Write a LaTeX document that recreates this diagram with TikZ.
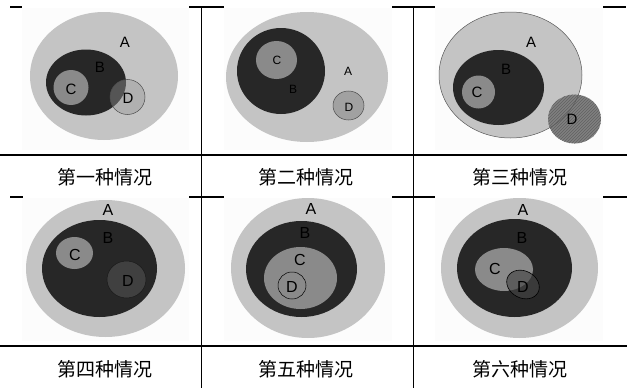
\documentclass[tikz,border=0pt]{standalone}
\usepackage{fontspec}
\setmainfont{Liberation Sans}
\newfontfamily\cjk{Noto Sans CJK SC}
\usetikzlibrary{patterns}
\definecolor{cA}{HTML}{C4C4C4}
\definecolor{cB}{HTML}{272727}
\definecolor{cC}{HTML}{8A8A8A}
\definecolor{bgimg}{HTML}{FCFCFC}
\definecolor{dOne}{HTML}{959595}
\definecolor{dSix}{HTML}{454545}
\tikzset{
  rule/.style={line width=1.1pt, black},
  toprule/.style={line width=1.8pt, black},
  setA/.style={fill=cA, draw=none},
  setB/.style={fill=cB, draw=none},
  setC/.style={fill=cC, draw=none},
  lblL/.style={font=\fontsize{15}{15}\selectfont, inner sep=0pt},
  lblS/.style={font=\fontsize{12}{12}\selectfont, inner sep=0pt},
  lblM/.style={font=\fontsize{16}{16}\selectfont, inner sep=0pt},
  captext/.style={font=\cjk\fontsize{19}{19}\selectfont, inner sep=0pt}
}
\begin{document}
\begin{tikzpicture}[x=1pt,y=-1pt]
\useasboundingbox (0,0) rectangle (627,388);
% image backgrounds
\fill[bgimg] (22,8) rectangle (189,150);
\fill[bgimg] (224,8) rectangle (392,150);
\fill[bgimg] (435,8) rectangle (603,150);
\fill[bgimg] (22,198) rectangle (189,341);
\fill[bgimg] (224,198) rectangle (392,341);
\fill[bgimg] (435,198) rectangle (603,341);
% table rules
\coordinate (t1a) at (10,7); \coordinate (t1b) at (22,7);
\coordinate (t2a) at (189,7); \coordinate (t2b) at (224,7);
\coordinate (t3a) at (392,7); \coordinate (t3b) at (435,7);
\coordinate (t4a) at (603,7); \coordinate (t4b) at (626,7);
\draw[toprule] (t1a) -- (t1b); \draw[toprule] (t2a) -- (t2b);
\draw[toprule] (t3a) -- (t3b); \draw[toprule] (t4a) -- (t4b);
\coordinate (m1a) at (10,197); \coordinate (m1b) at (23,197);
\coordinate (m2a) at (189,197); \coordinate (m2b) at (224,197);
\coordinate (m3a) at (392,197); \coordinate (m3b) at (435,197);
\coordinate (m4a) at (603,197); \coordinate (m4b) at (627,197);
\draw[rule] (m1a) -- (m1b); \draw[rule] (m2a) -- (m2b);
\draw[rule] (m3a) -- (m3b); \draw[rule] (m4a) -- (m4b);
\coordinate (h1a) at (0,155); \coordinate (h1b) at (627,155);
\coordinate (h2a) at (0,346); \coordinate (h2b) at (627,346);
\draw[rule] (h1a) -- (h1b); \draw[rule] (h2a) -- (h2b);
\coordinate (v1a) at (201.7,7); \coordinate (v1b) at (201.7,388);
\coordinate (v2a) at (413.3,7); \coordinate (v2b) at (413.3,388);
\draw[rule] (v1a) -- (v1b); \draw[rule] (v2a) -- (v2b);

% ---- panel 1
\fill[setA] (104,76) ellipse [x radius=74pt, y radius=64pt];
\fill[setB] (86,82.5) ellipse [x radius=40pt, y radius=33pt];
\fill[setC] (71,87.5) circle [radius=17.5pt];
\fill[dOne, fill opacity=0.42] (127.5,97) circle [radius=17.5pt];
\draw[black!70, line width=0.5pt] (127.5,97) circle [radius=17.5pt];
\node[lblL] (p1A) at (125,42) {A};
\node[lblL] (p1B) at (100,67) {B};
\node[lblL] (p1C) at (71,89) {C};
\node[lblL] (p1D) at (128,98) {D};

% ---- panel 2
\fill[setA] (307,77) ellipse [x radius=81pt, y radius=65pt];
\fill[setB] (281,71) ellipse [x radius=44pt, y radius=43pt];
\fill[setC] (276.5,60) ellipse [x radius=20.5pt, y radius=19pt];
\draw[fill=black!37, draw=black!70, line width=0.5pt] (348.5,105.5) ellipse [x radius=15.5pt, y radius=14.5pt];
\node[lblS] (p2C) at (277,60) {C};
\node[lblS] (p2B) at (293,89) {B};
\node[lblS] (p2A) at (348,71) {A};
\node[lblS] (p2D) at (349,107) {D};

% ---- panel 3
\draw[fill=cA, draw=black!65, line width=0.5pt] (510.5,75) ellipse [x radius=71.5pt, y radius=63pt];
\fill[setB] (498.5,87.5) ellipse [x radius=45.5pt, y radius=37.5pt];
\fill[setC] (478.5,92) circle [radius=16.5pt];
\fill[black!50] (574.5,119) ellipse [x radius=26.5pt, y radius=24.5pt];
\fill[pattern=north east lines, pattern color=black!62] (574.5,119) ellipse [x radius=26.5pt, y radius=24.5pt];
\begin{scope}
\clip (574.5,119) ellipse [x radius=26.5pt, y radius=24.5pt];
\draw[black!65, line width=0.5pt] (510.5,75) ellipse [x radius=71.5pt, y radius=63pt];
\end{scope}
\node[lblL] (p3A) at (531,42) {A};
\node[lblL] (p3B) at (506,69) {B};
\node[lblL] (p3C) at (477,92) {C};
\node[lblL] (p3D) at (572,119) {D};

% ---- panel 4
\fill[setA] (105.5,268.5) ellipse [x radius=79.5pt, y radius=68.5pt];
\fill[setB] (99.5,268.5) ellipse [x radius=57.5pt, y radius=48.5pt];
\fill[setC] (74.5,253) ellipse [x radius=18.5pt, y radius=16pt];
\draw[fill=black!75, draw=black!90, line width=0.5pt] (126.5,279.5) ellipse [x radius=19.5pt, y radius=18.5pt];
\node[lblM] (p4A) at (108,210) {A};
\node[lblM] (p4B) at (108,238) {B};
\node[lblM] (p4C) at (75,255) {C};
\node[lblM] (p4D) at (128,281) {D};

% ---- panel 5
\fill[setA] (308,268) ellipse [x radius=77pt, y radius=70pt];
\fill[setB] (301.5,269) ellipse [x radius=55.5pt, y radius=48pt];
\fill[setC] (300.5,278) ellipse [x radius=36.5pt, y radius=31pt];
\draw[draw=black, line width=0.5pt] (292,285.5) ellipse [x radius=14pt, y radius=13.5pt];
\node[lblM] (p5A) at (311,209) {A};
\node[lblM] (p5B) at (305,233) {B};
\node[lblM] (p5C) at (300,260) {C};
\node[lblM] (p5D) at (292,287) {D};

% ---- panel 6
\fill[setA] (519.5,268) ellipse [x radius=78.5pt, y radius=70pt];
\fill[setB] (514.5,268) ellipse [x radius=57.5pt, y radius=49pt];
\fill[setC] (504,269.5) ellipse [x radius=29pt, y radius=21.5pt];
\fill[dSix, fill opacity=0.64, rotate around={-28:(523,284.5)}] (523,284.5) ellipse [x radius=17pt, y radius=13.5pt];
\draw[black, line width=0.6pt, rotate around={-28:(523,284.5)}] (523,284.5) ellipse [x radius=17pt, y radius=13.5pt];
\node[lblM] (p6A) at (523,210) {A};
\node[lblM] (p6B) at (522,238) {B};
\node[lblM] (p6C) at (495,269) {C};
\node[lblM] (p6D) at (523,287) {D};

% ---- captions
\node[captext] (cap1) at (105,177) {第一种情况};
\node[captext] (cap2) at (306,177) {第二种情况};
\node[captext] (cap3) at (520,177) {第三种情况};
\node[captext] (cap4) at (105,369) {第四种情况};
\node[captext] (cap5) at (306,369) {第五种情况};
\node[captext] (cap6) at (520,369) {第六种情况};
\end{tikzpicture}
\end{document}
